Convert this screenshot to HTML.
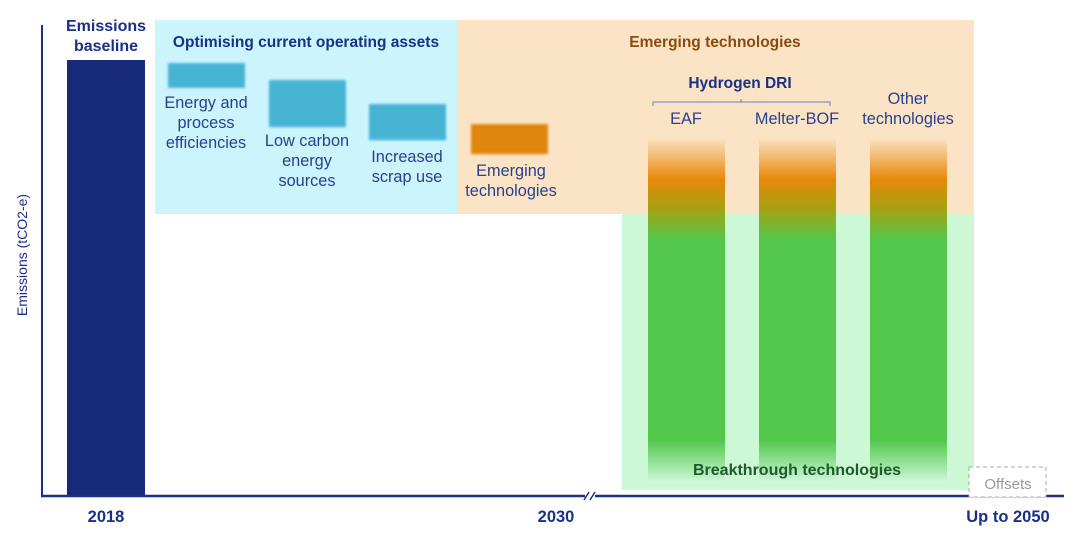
<!DOCTYPE html>
<html><head><meta charset="utf-8">
<style>
html,body{margin:0;padding:0;background:#fff;}
svg{display:block;font-family:"Liberation Sans",Arial,sans-serif;}
</style></head>
<body>
<svg id="chart" width="1075" height="533" viewBox="0 0 1075 533" xmlns="http://www.w3.org/2000/svg">
<defs>
<linearGradient id="gBreak" x1="0" y1="0" x2="0" y2="1">
<stop offset="0" stop-color="#fbe3c5"/>
<stop offset="0.12" stop-color="#e8880a"/>
<stop offset="0.2" stop-color="#a8a010"/>
<stop offset="0.3" stop-color="#52c74c"/>
<stop offset="0.88" stop-color="#52c74c"/>
<stop offset="1" stop-color="#ccf7d6"/>
</linearGradient>
<filter id="soft"><feGaussianBlur stdDeviation="1.2"/></filter>
</defs>
<rect x="155" y="20" width="302" height="194" fill="#ccf4fd"/>
<rect x="457" y="20" width="517" height="194" fill="#fbe4c6"/>
<rect x="622" y="214" width="352" height="276" fill="#ccf8d6"/>
<g id="bars"></g>
<line x1="42" y1="25" x2="42" y2="496" stroke="#1a2f86" stroke-width="2"/>
<line x1="41" y1="496" x2="585" y2="496" stroke="#1a2f86" stroke-width="2.5"/>
<line x1="595" y1="496" x2="1064" y2="496" stroke="#1a2f86" stroke-width="2.5"/>
<g stroke="#1a2f86" stroke-width="1.5"><line x1="584" y1="500" x2="589" y2="492"/><line x1="590" y1="500" x2="595" y2="492"/></g>
<text transform="translate(27,255) rotate(-90)" text-anchor="middle" font-size="14" fill="#1a2f86">Emissions (tCO2-e)</text>
<g font-weight="bold" font-size="16.5" fill="#1a2f86" text-anchor="middle">
<text x="106" y="522">2018</text>
<text x="556" y="522">2030</text>
<text x="1008" y="522">Up to 2050</text>
</g>
<g font-weight="bold" font-size="16" fill="#1a2f86" text-anchor="middle">
<text x="106" y="31">Emissions</text>
<text x="106" y="51">baseline</text>
<text x="306" y="47" font-size="15.5">Optimising current operating assets</text>
<text x="715" y="47" font-size="15.5" fill="#8a4a10">Emerging technologies</text>
<text x="740" y="88" font-size="15.5">Hydrogen DRI</text>
<text x="797" y="475" font-size="16" fill="#1f5a2a">Breakthrough technologies</text>
</g>
<path d="M653,106 V102 H830 V106 M741,102 V99" fill="none" stroke="#6c7fb8" stroke-width="1"/>
<g font-size="16.3" fill="#2a3f8e" text-anchor="middle">
<text x="206" y="108">Energy and</text>
<text x="206" y="128">process</text>
<text x="206" y="148">efficiencies</text>
<text x="307" y="146">Low carbon</text>
<text x="307" y="166">energy</text>
<text x="307" y="186">sources</text>
<text x="407" y="162">Increased</text>
<text x="407" y="182">scrap use</text>
<text x="511" y="176">Emerging</text>
<text x="511" y="196">technologies</text>
<text x="686" y="124">EAF</text>
<text x="797" y="124">Melter-BOF</text>
<text x="908" y="104">Other</text>
<text x="908" y="124">technologies</text>
</g>
<rect x="969" y="467" width="77" height="30" fill="#fff" stroke="#aaa" stroke-dasharray="4,3"/>
<text x="1008" y="489" font-size="15" fill="#999" text-anchor="middle">Offsets</text>
<script>
const categories = ["Baseline","Energy efficiencies","Low carbon energy","Scrap use","Emerging","EAF","Melter-BOF","Other technologies"];
const tops = [100, 99.3, 95.4, 89.9, 85.3, 82.1, 82.1, 82.1];
const bottoms = [0, 93.6, 84.6, 81.6, 78.4, 3.4, 3.4, 3.4];
const kinds = ["base","opt","opt","opt","emg","brk","brk","brk"];
const xLefts = [67, 168, 269, 369, 471, 648, 759, 870];
const barW = 77;
const y = v => 496 - v * 4.36;
const g = document.getElementById('bars');
const fills = {base:"#172b7a", opt:"#47b3d3", emg:"#e0860a", brk:"url(#gBreak)"};
for (let i = 0; i < categories.length; i++) {
  const r = document.createElementNS("http://www.w3.org/2000/svg","rect");
  r.setAttribute('x', xLefts[i]);
  r.setAttribute('y', y(tops[i]));
  r.setAttribute('width', barW + (kinds[i]==="base"?1:0));
  r.setAttribute('height', y(bottoms[i]) - y(tops[i]));
  r.setAttribute('fill', fills[kinds[i]]);
  if (kinds[i]==="opt"||kinds[i]==="emg") r.setAttribute('filter','url(#soft)');
  
  
  g.appendChild(r);
}
</script>
</svg>
</body></html>
